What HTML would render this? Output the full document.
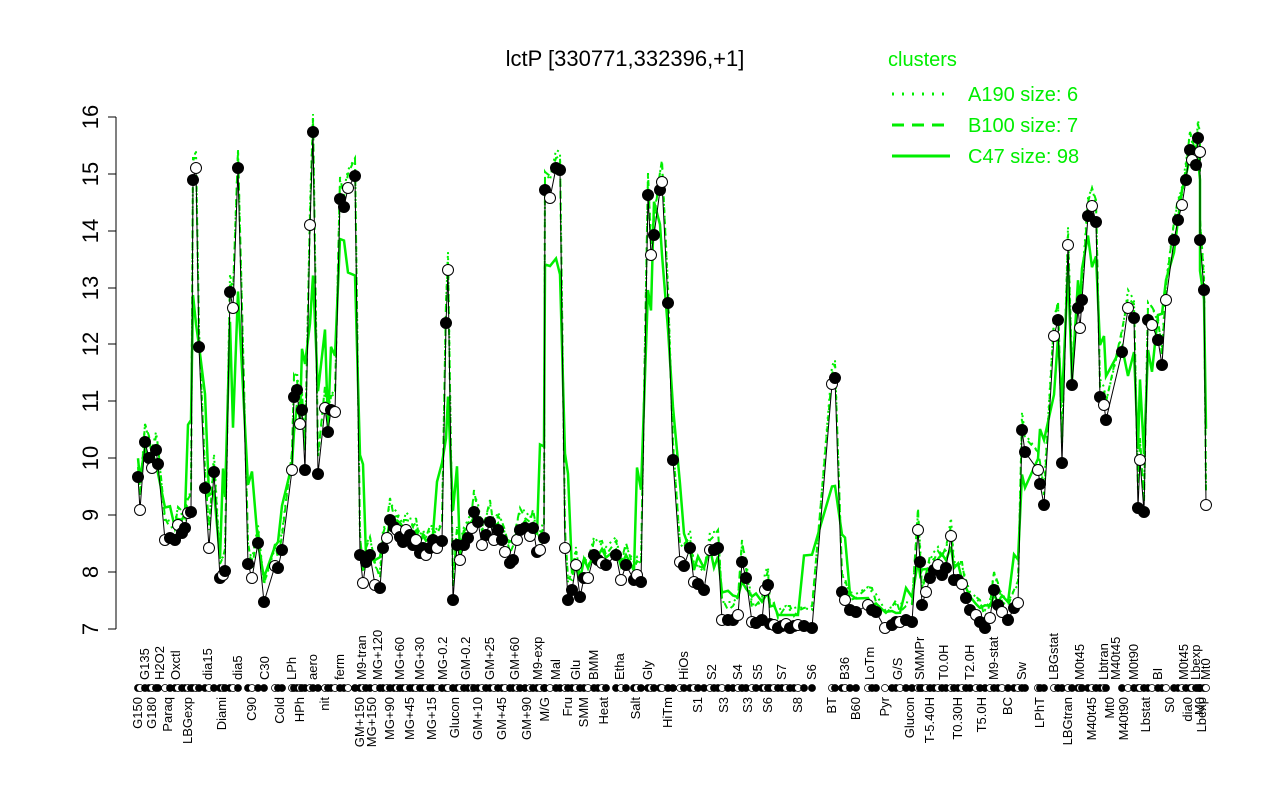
<!DOCTYPE html>
<html><head><meta charset="utf-8"><style>html,body{margin:0;padding:0;background:#fff}svg{display:block}text{font-family:"Liberation Sans",sans-serif}</style></head>
<body>
<svg width="1280" height="800" viewBox="0 0 1280 800" xmlns="http://www.w3.org/2000/svg">
<text x="625" y="66" font-size="22" text-anchor="middle">lctP [330771,332396,+1]</text>
<g stroke="#000" stroke-width="1" fill="none">
<line x1="116" y1="117" x2="116" y2="629"/>
<line x1="108" y1="629" x2="116" y2="629"/><line x1="108" y1="572" x2="116" y2="572"/><line x1="108" y1="515" x2="116" y2="515"/><line x1="108" y1="458" x2="116" y2="458"/><line x1="108" y1="401" x2="116" y2="401"/><line x1="108" y1="344" x2="116" y2="344"/><line x1="108" y1="288" x2="116" y2="288"/><line x1="108" y1="231" x2="116" y2="231"/><line x1="108" y1="174" x2="116" y2="174"/><line x1="108" y1="117" x2="116" y2="117"/>
</g>
<g font-size="22" text-anchor="middle">
<text transform="translate(98,629) rotate(-90)">7</text>
<text transform="translate(98,572) rotate(-90)">8</text>
<text transform="translate(98,515) rotate(-90)">9</text>
<text transform="translate(98,458) rotate(-90)">10</text>
<text transform="translate(98,401) rotate(-90)">11</text>
<text transform="translate(98,344) rotate(-90)">12</text>
<text transform="translate(98,288) rotate(-90)">13</text>
<text transform="translate(98,231) rotate(-90)">14</text>
<text transform="translate(98,174) rotate(-90)">15</text>
<text transform="translate(98,117) rotate(-90)">16</text>
</g>
<g font-size="20" fill="#00ee00">
<text x="888" y="66">clusters</text>
<text x="968" y="101">A190 size: 6</text>
<text x="968" y="132">B100 size: 7</text>
<text x="968" y="163">C47 size: 98</text>
</g>
<g stroke="#00ee00" stroke-width="3">
<line x1="892" y1="94" x2="950" y2="94" stroke-dasharray="2,8"/>
<line x1="892" y1="125" x2="950" y2="125" stroke-dasharray="12,8"/>
<line x1="892" y1="156" x2="950" y2="156"/>
</g>
<g id="pts"></g>
<g id="labs" font-size="13"></g>
<g id="dots"></g>
</svg>
<script>
var P=[[138,477],[140,510],[145,442],[149,458],[152,468],[156,450],[158,464],[165,540],[170,538],[175,540],[178,525],[182,533],[185,528],[188,513],[191,512],[193,180],[196,168],[199,347],[205,488],[209,548],[214,472],[220,578],[223,575],[225,571],[230,292],[233,308],[238,168],[248,564],[252,578],[258,543],[264,602],[275,566],[278,568],[282,550],[292,470],[294,397],[297,390],[300,424],[302,410],[305,470],[310,225],[313,132],[318,474],[325,408],[328,432],[331,410],[335,412],[340,199],[344,207],[348,188],[355,176],[360,555],[363,583],[366,562],[370,555],[375,585],[380,588],[383,548],[387,538],[390,520],[394,527],[397,530],[400,537],[403,542],[406,530],[410,535],[413,545],[416,540],[420,553],[423,548],[426,555],[430,548],[433,540],[437,548],[442,541],[446,323],[448,270],[453,600],[457,545],[460,560],[464,545],[468,538],[472,528],[474,512],[478,522],[482,545],[486,535],[490,522],[494,540],[498,530],[502,540],[505,552],[510,563],[513,560],[517,540],[520,530],[525,528],[530,536],[533,528],[537,552],[540,550],[544,538],[545,190],[550,198],[556,168],[560,170],[565,548],[568,600],[572,590],[576,565],[580,597],[584,578],[588,578],[594,555],[598,560],[602,563],[606,565],[616,555],[621,580],[626,565],[634,580],[637,575],[641,582],[648,195],[651,255],[654,235],[660,190],[662,182],[668,303],[673,460],[680,562],[684,566],[690,548],[694,582],[698,584],[704,590],[710,550],[714,550],[718,548],[722,620],[728,620],[733,620],[738,615],[742,562],[746,578],[752,622],[756,623],[762,620],[765,590],[768,585],[770,624],[774,625],[778,628],[782,626],[786,624],[790,628],[794,626],[798,625],[804,626],[812,628],[832,384],[835,378],[842,592],[845,600],[850,610],[856,612],[868,605],[872,610],[876,612],[885,628],[892,625],[896,622],[900,622],[906,620],[912,622],[918,530],[920,562],[922,605],[926,592],[930,578],[934,570],[938,565],[942,575],[946,568],[951,536],[954,580],[958,580],[962,584],[966,598],[970,610],[976,615],[980,622],[985,628],[990,618],[994,590],[998,605],[1002,612],[1008,620],[1014,608],[1018,603],[1022,430],[1025,452],[1038,470],[1040,484],[1044,505],[1054,336],[1058,320],[1062,463],[1068,245],[1072,385],[1078,308],[1080,328],[1082,300],[1088,216],[1092,206],[1096,222],[1100,397],[1104,405],[1106,420],[1122,352],[1128,308],[1134,318],[1138,508],[1140,460],[1144,512],[1148,320],[1152,325],[1158,340],[1162,365],[1166,300],[1174,240],[1178,220],[1182,205],[1186,180],[1190,150],[1192,160],[1196,165],[1198,138],[1200,152],[1200,240],[1204,290],[1206,505]];
var NS="http://www.w3.org/2000/svg",g=document.getElementById('pts');
function pl(pts,col,w,dash){var e=document.createElementNS(NS,'polyline');e.setAttribute('points',pts.map(function(p){return p.join(',')}).join(' '));e.setAttribute('fill','none');e.setAttribute('stroke',col);e.setAttribute('stroke-width',w);if(dash)e.setAttribute('stroke-dasharray',dash);g.appendChild(e);}
var S=P.map(function(p,i){var a=P[Math.max(0,i-2)][1],b=P[Math.min(P.length-1,i+2)][1];return [p[0],Math.min(615,(a+2*p[1]+b)/4-10)];});
pl(S,'#00ee00',2.5);
pl(P.map(function(p,i){return [p[0],p[1]-10-(i%4)*4]}),'#00ee00',2,'6,5');
pl(P.map(function(p,i){return [p[0],p[1]-18]}),'#00ee00',2,'2,4');
pl(P,'#000',1);
P.forEach(function(p,i){var c=document.createElementNS(NS,'circle');c.setAttribute('cx',p[0]);c.setAttribute('cy',p[1]);c.setAttribute('r',5.5);c.setAttribute('stroke','#000');c.setAttribute('fill',(i%3==1)?'#fff':'#000');g.appendChild(c);});
var L=[[138,'G150',0],[145,'G135',1],[152,'G180',0],[160,'H2O2',1],[168,'Paraq',0],[176,'Oxctl',1],[188,'LBGexp',0],[208,'dia15',1],[222,'Diami',0],[238,'dia5',1],[252,'C90',0],[265,'C30',1],[280,'Cold',0],[292,'LPh',1],[300,'HPh',0],[313,'aero',1],[325,'nit',0],[340,'ferm',1],[360,'GM+150',0],[362,'M9-tran',1],[372,'MG+150',0],[378,'MG+120',1],[390,'MG+90',0],[400,'MG+60',1],[410,'MG+45',0],[420,'MG+30',1],[432,'MG+15',0],[443,'MG-0.2',1],[455,'Glucon',0],[466,'GM-0.2',1],[478,'GM+10',0],[490,'GM+25',1],[502,'GM+45',0],[515,'GM+60',1],[527,'GM+90',0],[538,'M9-exp',1],[545,'M/G',0],[556,'Mal',1],[568,'Fru',0],[576,'Glu',1],[584,'SMM',0],[594,'BMM',1],[604,'Heat',0],[620,'Etha',1],[636,'Salt',0],[648,'Gly',1],[668,'HiTm',0],[684,'HiOs',1],[698,'S1',0],[712,'S2',1],[724,'S3',0],[738,'S4',1],[748,'S3',0],[758,'S5',1],[768,'S6',0],[782,'S7',1],[798,'S8',0],[812,'S6',1],[832,'BT',0],[845,'B36',1],[856,'B60',0],[870,'LoTm',1],[885,'Pyr',0],[898,'G/S',1],[910,'Glucon',0],[920,'SMMPr',1],[930,'T-5.40H',0],[944,'T0.0H',1],[958,'T0.30H',0],[970,'T2.0H',1],[982,'T5.0H',0],[994,'M9-stat',1],[1008,'BC',0],[1022,'Sw',1],[1040,'LPhT',0],[1054,'LBGstat',1],[1068,'LBGtran',0],[1080,'M0t45',1],[1092,'M40t45',0],[1104,'Lbtran',1],[1110,'Mt0',0],[1116,'M40t45',1],[1124,'M40t90',0],[1134,'M0t90',1],[1146,'Lbstat',0],[1158,'BI',1],[1170,'S0',0],[1184,'M0t45',1],[1188,'dia0',0],[1196,'Lbexp',1],[1200,'M0',0],[1206,'Mt0',1],[1202,'Lbexp',0]];
var lg=document.getElementById('labs');
L.forEach(function(l){var t=document.createElementNS(NS,'text');var y=l[2]?680:697;t.setAttribute('transform','translate('+(l[0]+4)+','+y+') rotate(-90)');t.setAttribute('text-anchor',l[2]?'start':'end');t.textContent=l[1];lg.appendChild(t);});
var dg=document.getElementById('dots');
P.forEach(function(p,i){var c=document.createElementNS(NS,'circle');c.setAttribute('cx',p[0]);c.setAttribute('cy',688);c.setAttribute('r',3.5);c.setAttribute('stroke','#000');c.setAttribute('stroke-width','0.8');c.setAttribute('fill',(i%3==1)?'#fff':'#000');dg.appendChild(c);});
</script>
</body></html>
